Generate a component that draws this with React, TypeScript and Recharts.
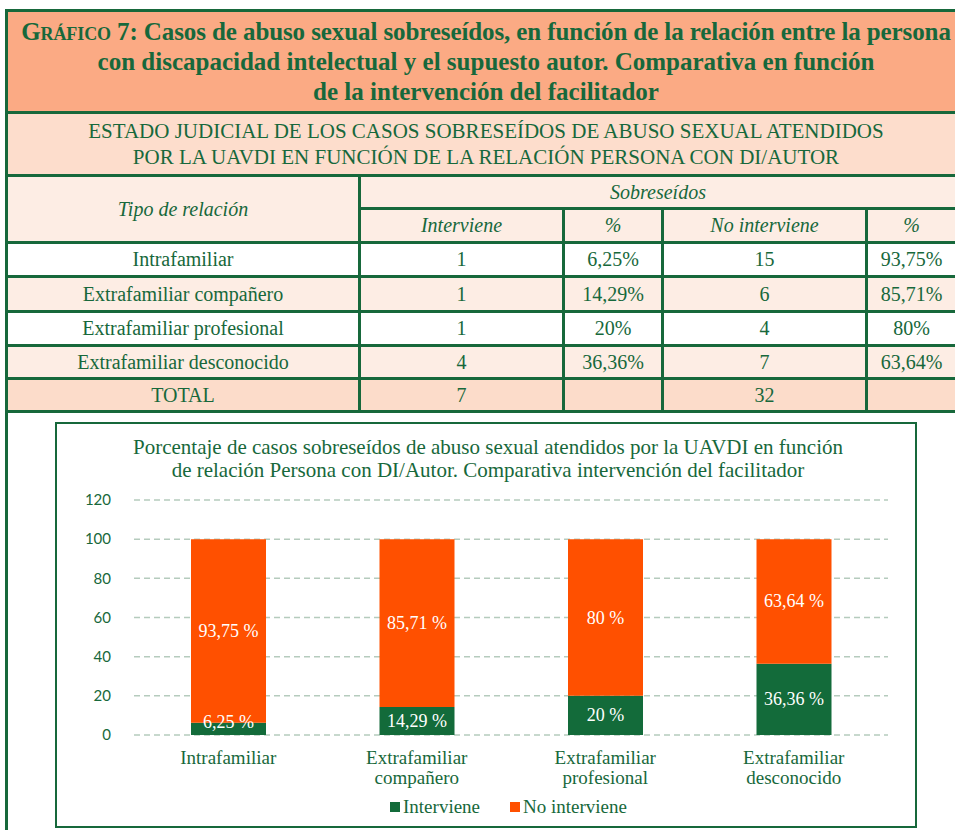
import React from 'react';
import { BarChart, Bar, XAxis, YAxis, CartesianGrid, Legend, LabelList } from 'recharts';

// chart data
const categories = ['Intrafamiliar', 'Extrafamiliar compañero', 'Extrafamiliar profesional', 'Extrafamiliar desconocido'];
const tickLines = [['Intrafamiliar'], ['Extrafamiliar', 'compañero'], ['Extrafamiliar', 'profesional'], ['Extrafamiliar', 'desconocido']];
const interviene = [6.25, 14.29, 20, 36.36];
const noInterviene = [93.75, 85.71, 80, 63.64];
const yTicks = [0, 20, 40, 60, 80, 100, 120];

// table data
const countInterviene = [1, 1, 1, 4];
const countNoInterviene = [15, 6, 4, 7];
const pctInterviene = ['6,25%', '14,29%', '20%', '36,36%'];
const pctNoInterviene = ['93,75%', '85,71%', '80%', '63,64%'];
const totalInterviene = 7;
const totalNoInterviene = 32;

const GREEN = '#17683B';
const BAR_GREEN = '#136B3A';
const BAR_ORANGE = '#FF5000';
const SALMON = '#FBAA84';
const PEACH = '#FDDDCC';
const PALE = '#FDEDE4';
const TOTAL_BG = '#FCDCCA';
const SERIF = '"Liberation Serif", "Times New Roman", serif';

const data = categories.map((name, i) => ({
  name,
  interviene: interviene[i],
  noInterviene: noInterviene[i],
}));

const fmt = (v: any) => `${String(v).replace('.', ',')} %`;

function CatTick(props: any) {
  const { x, y, payload } = props;
  const lines = tickLines[categories.indexOf(payload.value)] || [payload.value];
  return (
    <text x={x} y={y + 29} textAnchor="middle" fill={GREEN} fontFamily={SERIF} fontSize={19}>
      {lines.map((l, i) => (
        <tspan key={i} x={x} dy={i === 0 ? 0 : 20}>{l}</tspan>
      ))}
    </text>
  );
}

// keeps the label of a thin segment inside the bar
function InsideLabel(props: any) {
  const { x, y, width, height, value } = props;
  const cy = Math.min(y + height / 2, y + height - 13);
  return (
    <text x={x + width / 2} y={cy} textAnchor="middle" dominantBaseline="central" fill="#ffffff" fontFamily={SERIF} fontSize={18}>
      {fmt(value)}
    </text>
  );
}

const legendItems = [
  { label: 'Interviene', color: BAR_GREEN },
  { label: 'No interviene', color: BAR_ORANGE },
];

const renderLegend = () => (
  <div style={{ display: 'flex', justifyContent: 'center', alignItems: 'center', height: 35, boxSizing: 'border-box', paddingLeft: 72, paddingBottom: 4, gap: 30, fontFamily: SERIF, fontSize: 19, color: GREEN }}>
    {legendItems.map((it) => (
      <div key={it.label} style={{ display: 'flex', alignItems: 'center', gap: 3 }}>
        <span style={{ display: 'inline-block', width: 10, height: 10, background: it.color }} />
        <span>{it.label}</span>
      </div>
    ))}
  </div>
);

const cell = (bg: string, extra: React.CSSProperties = {}): React.CSSProperties => ({
  background: bg,
  display: 'flex',
  alignItems: 'center',
  justifyContent: 'center',
  ...extra,
});

export default function App() {
  const rowBg = ['#ffffff', PALE, '#ffffff', PALE];
  return (
    <div style={{ position: 'absolute', left: 0, top: 0, width: 955, height: 830, overflow: 'hidden', background: '#fff', fontFamily: SERIF, color: GREEN }}>
      {/* header + table block */}
      <div style={{ position: 'absolute', left: 5, top: 9, width: 953, background: GREEN, padding: '3px 3px 3px 3px', boxSizing: 'border-box', display: 'flex', flexDirection: 'column', gap: 3 }}>
        <div style={{ height: 99, background: SALMON, display: 'flex', alignItems: 'center', justifyContent: 'center', paddingLeft: 9, fontWeight: 'bold', fontSize: 25, lineHeight: '30px', textAlign: 'center', whiteSpace: 'nowrap' }}>
          <div>
            <span style={{ letterSpacing: '-0.1px' }}>
              <span style={{ fontVariant: 'small-caps' }}>Gráfico</span> 7: Casos de abuso sexual sobreseídos, en función de la relación entre la persona
            </span><br />
            con discapacidad intelectual y el supuesto autor. Comparativa en función<br />
            de la intervención del facilitador
          </div>
        </div>
        <div style={{ height: 60, background: PEACH, display: 'flex', alignItems: 'center', justifyContent: 'center', paddingLeft: 9, fontSize: 21, lineHeight: '26px', textAlign: 'center', whiteSpace: 'nowrap' }}>
          <div>
            ESTADO JUDICIAL DE LOS CASOS SOBRESEÍDOS DE ABUSO SEXUAL ATENDIDOS<br />
            POR LA UAVDI EN FUNCIÓN DE LA RELACIÓN PERSONA CON DI/AUTOR
          </div>
        </div>
        <div style={{ display: 'grid', gridTemplateColumns: '350px 201px 96px 201px 87px', gridTemplateRows: '30px 31px 31px 32px 31px 30px 30px', gap: 3, fontSize: 20 }}>
          <div style={cell(PALE, { gridRow: '1 / 3', fontStyle: 'italic' })}>Tipo de relación</div>
          <div style={cell(PALE, { gridColumn: '2 / 6', fontStyle: 'italic' })}>Sobreseídos</div>
          <div style={cell(PALE, { fontStyle: 'italic' })}>Interviene</div>
          <div style={cell(PALE, { fontStyle: 'italic' })}>%</div>
          <div style={cell(PALE, { fontStyle: 'italic' })}>No interviene</div>
          <div style={cell(PALE, { fontStyle: 'italic' })}>%</div>
          {categories.map((c, i) => (
            <React.Fragment key={c}>
              <div style={cell(rowBg[i])}>{c}</div>
              <div style={cell(rowBg[i])}>{countInterviene[i]}</div>
              <div style={cell(rowBg[i])}>{pctInterviene[i]}</div>
              <div style={cell(rowBg[i])}>{countNoInterviene[i]}</div>
              <div style={cell(rowBg[i])}>{pctNoInterviene[i]}</div>
            </React.Fragment>
          ))}
          <div style={cell(TOTAL_BG)}>TOTAL</div>
          <div style={cell(TOTAL_BG)}>{totalInterviene}</div>
          <div style={cell(TOTAL_BG)}></div>
          <div style={cell(TOTAL_BG)}>{totalNoInterviene}</div>
          <div style={cell(TOTAL_BG)}></div>
        </div>
      </div>
      {/* left frame line below table */}
      <div style={{ position: 'absolute', left: 5, top: 413, width: 3, height: 420, background: GREEN }} />

      {/* chart box */}
      <div style={{ position: 'absolute', left: 55, top: 422, width: 862, height: 406, border: `2px solid ${GREEN}`, boxSizing: 'border-box' }} />
      <div style={{ position: 'absolute', left: 57, top: 436, width: 862, textAlign: 'center', fontSize: 21, lineHeight: '23px', whiteSpace: 'nowrap' }}>
        Porcentaje de casos sobreseídos de abuso sexual atendidos por la UAVDI en función<br />
        de relación Persona con DI/Autor. Comparativa intervención del facilitador
      </div>
      <div style={{ position: 'absolute', left: 57, top: 485 }}>
        <BarChart width={858} height={341} data={data} margin={{ top: 15, right: 27, left: 0, bottom: 0 }} barSize={75}>
          <CartesianGrid vertical={false} stroke="#B5CBBD" strokeDasharray="6 4" strokeWidth={1.5} />
          <XAxis dataKey="name" axisLine={false} tickLine={false} tickSize={0} tickMargin={0} height={56} interval={0} tick={<CatTick />} />
          <YAxis domain={[0, 120]} ticks={yTicks} axisLine={false} tickLine={false} width={77} tickMargin={17}
            tick={{ fill: GREEN, fontSize: 15, fontFamily: 'Lato, sans-serif' }} />
          <Legend verticalAlign="bottom" content={renderLegend} />
          <Bar dataKey="interviene" stackId="a" fill={BAR_GREEN} isAnimationActive={false}>
            <LabelList dataKey="interviene" content={<InsideLabel />} />
          </Bar>
          <Bar dataKey="noInterviene" stackId="a" fill={BAR_ORANGE} isAnimationActive={false}>
            <LabelList dataKey="noInterviene" content={<InsideLabel />} />
          </Bar>
        </BarChart>
      </div>
    </div>
  );
}
